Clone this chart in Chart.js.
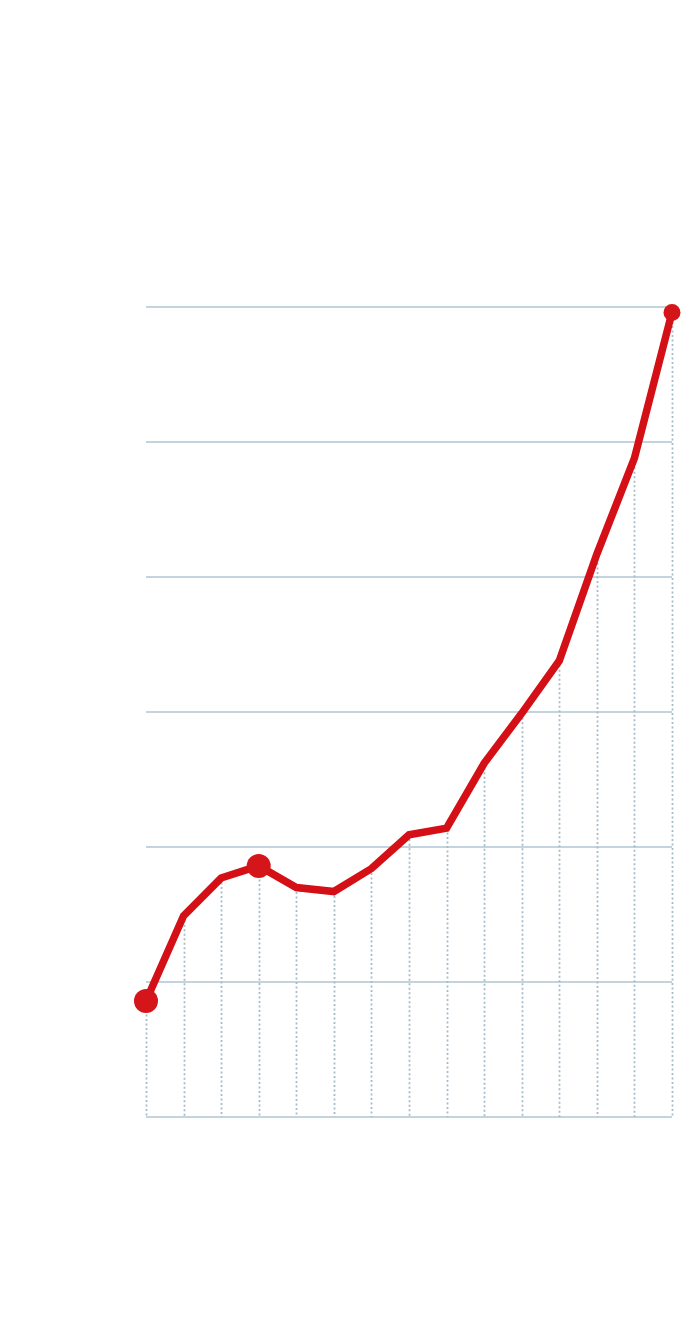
<!DOCTYPE html>
<html>
<head>
<meta charset="utf-8">
<script src="https://cdn.jsdelivr.net/npm/chart.js@4/dist/chart.umd.min.js"></script>
<style>
    html, body { margin: 0; padding: 0; background: #ffffff; }
    #chart { display: block; }
</style>
</head>
<body>
<canvas id="chart" width="700" height="1320"></canvas>
<script>
// ================= DATA =================
const categories = ["1","2","3","4","5","6","7","8","9","10","11","12","13","14","15"];
const values = [0.86, 1.49, 1.77, 1.86, 1.70, 1.67, 1.84, 2.09, 2.14, 2.62, 2.99, 3.38, 4.17, 4.88, 5.96];
const markerRadius = [12, 0, 0, 12, 0, 0, 0, 0, 0, 0, 0, 0, 0, 0, 8.5];
const yTicks = [0, 1, 2, 3, 4, 5, 6];

// dotted drop lines from each point down to the baseline
const dropLines = {
    id: "dropLines",
    beforeDatasetsDraw(chart) {
        const ctx = chart.ctx;
        const yScale = chart.scales.y;
        const base = yScale.getPixelForValue(yTicks[0]);
        const meta = chart.getDatasetMeta(0);
        ctx.save();
        ctx.strokeStyle = "#a3bccb";
        ctx.lineWidth = 1.8;
        ctx.setLineDash([2, 2.5]);
        meta.data.forEach((pt) => {
            const x = Math.round(pt.x) + 0.5;
            ctx.beginPath();
            ctx.moveTo(x, pt.y);
            ctx.lineTo(x, base);
            ctx.stroke();
        });
        ctx.restore();
    }
};

new Chart(document.getElementById("chart"), {
    type: "line",
    data: {
        labels: categories,
        datasets: [{
            data: values,
            borderColor: "#d40f16",
            backgroundColor: "#d4151a",
            borderWidth: 7.5,
            tension: 0,
            fill: false,
            clip: false,
            pointRadius: markerRadius,
            pointBorderWidth: 0,
            pointBackgroundColor: "#d4151a",
            pointHoverRadius: markerRadius
        }]
    },
    options: {
        responsive: false,
        animation: false,
        events: [],
        layout: {
            padding: { left: 146, right: 28, top: 307, bottom: 203 }
        },
        plugins: {
            legend: { display: false },
            tooltip: { enabled: false }
        },
        scales: {
            x: {
                offset: false,
                grid: { display: false, drawTicks: false },
                border: { display: false },
                ticks: { display: false }
            },
            y: {
                min: yTicks[0],
                max: yTicks[yTicks.length - 1],
                afterBuildTicks: (scale) => {
                    scale.ticks = yTicks.map((v) => ({ value: v }));
                },
                grid: { color: "#c3d4de", lineWidth: 2, drawTicks: false },
                border: { display: false },
                ticks: { display: false }
            }
        }
    },
    plugins: [dropLines]
});
</script>
</body>
</html>
